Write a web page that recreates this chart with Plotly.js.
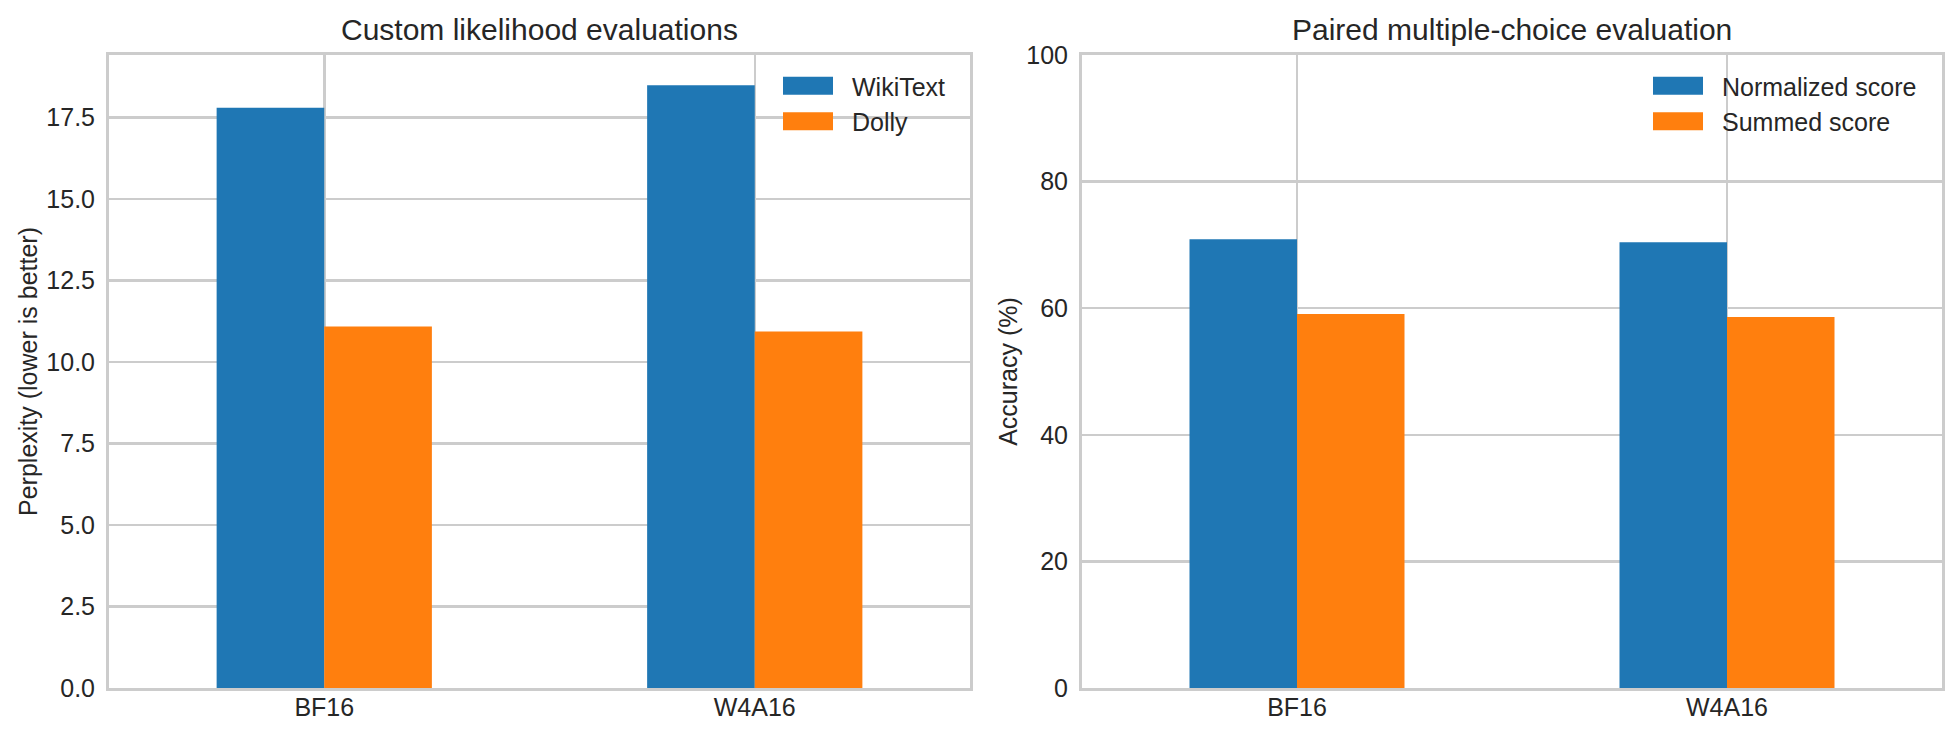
<!DOCTYPE html>
<html>
<head>
<meta charset="utf-8">
<script src="https://cdn.plot.ly/plotly-3.0.1.min.js"></script>
<style>html,body{margin:0;padding:0;background:#fff;}</style>
</head>
<body>
<div id="chart" style="width:1960px;height:738px;"></div>
<script>
// ---- data ----
const categories = ["BF16", "W4A16"];
const wikitext = [17.81, 18.50];
const dolly = [11.09, 10.94];
const normalizedScore = [70.9, 70.4];
const summedScore = [59.1, 58.6];
const leftTitle = "Custom likelihood evaluations";
const rightTitle = "Paired multiple-choice evaluation";
const leftYLabel = "Perplexity (lower is better)";
const rightYLabel = "Accuracy (%)";
const leftYTicks = [0, 2.5, 5, 7.5, 10, 12.5, 15, 17.5];
const rightYTicks = [0, 20, 40, 60, 80, 100];

const BLUE = "#1f77b4", ORANGE = "#ff7f0e", TXT = "#262626", GRID = "#cccccc";
const FONT = "Liberation Sans, Arial, sans-serif";

const traces = [
  {type: "bar", x: categories, y: wikitext, name: "WikiText", marker: {color: BLUE},
   width: 0.25, offset: -0.25, xaxis: "x", yaxis: "y", legend: "legend", legendgroup: "a"},
  {type: "bar", x: categories, y: dolly, name: "Dolly", marker: {color: ORANGE},
   width: 0.25, offset: 0, xaxis: "x", yaxis: "y", legend: "legend", legendgroup: "b"},
  {type: "bar", x: categories, y: normalizedScore, name: "Normalized score", marker: {color: BLUE},
   width: 0.25, offset: -0.25, xaxis: "x2", yaxis: "y2", legend: "legend2", legendgroup: "c"},
  {type: "bar", x: categories, y: summedScore, name: "Summed score", marker: {color: ORANGE},
   width: 0.25, offset: 0, xaxis: "x2", yaxis: "y2", legend: "legend2", legendgroup: "d"}
];

const W = 1960, H = 738;
const px = v => v / W;
const py = v => 1 - v / H;

function xax(domain, anchor) {
  return {
    domain: domain, anchor: anchor, type: "category", range: [-0.5, 1.5],
    showgrid: true, gridcolor: GRID, gridwidth: 2.5,
    showline: true, mirror: true, linecolor: GRID, linewidth: 3,
    ticks: "", ticklabelstandoff: -5, zeroline: false,
    tickfont: {family: FONT, size: 25, color: TXT}, fixedrange: true
  };
}
function yax(domain, anchor, range, ticks, fmt, title) {
  return {
    domain: domain, anchor: anchor, range: range, tickvals: ticks, tickformat: fmt,
    showgrid: true, gridcolor: GRID, gridwidth: 2.5,
    showline: true, mirror: true, linecolor: GRID, linewidth: 3,
    ticks: "", ticklabelstandoff: 6, zeroline: false,
    tickfont: {family: FONT, size: 25, color: TXT}, fixedrange: true,
    title: {text: title, font: {family: FONT, size: 25, color: TXT}, standoff: 2}
  };
}

const ydom = [py(688), py(55)];
const legendCommon = {
  xanchor: "left", yanchor: "top", bgcolor: "rgba(0,0,0,0)",
  font: {family: FONT, size: 25, color: TXT}, itemwidth: 70, tracegroupgap: 0,
  traceorder: "grouped", borderwidth: 0
};
const layout = {
  width: W, height: H,
  margin: {l: 0, r: 0, t: 0, b: 0, pad: 0},
  paper_bgcolor: "#ffffff", plot_bgcolor: "#ffffff",
  font: {family: FONT, color: TXT},
  barmode: "overlay",
  xaxis: xax([px(109), px(970)], "y"),
  yaxis: yax(ydom, "x", [0, 19.425], leftYTicks, ".1f", leftYLabel),
  xaxis2: xax([px(1082), px(1942)], "y2"),
  yaxis2: yax(ydom, "x2", [0, 100], rightYTicks, "d", rightYLabel),
  legend: Object.assign({x: px(772), y: py(63)}, legendCommon),
  legend2: Object.assign({x: px(1642), y: py(63)}, legendCommon),
  annotations: [
    {text: leftTitle, xref: "paper", yref: "paper", x: px(539.5), y: py(29), xanchor: "center",
     yanchor: "middle", showarrow: false, font: {family: FONT, size: 30, color: TXT}},
    {text: rightTitle, xref: "paper", yref: "paper", x: px(1512), y: py(29), xanchor: "center",
     yanchor: "middle", showarrow: false, font: {family: FONT, size: 30, color: TXT}}
  ],
  showlegend: true
};

function fixSwatches(gd) {
  gd.querySelectorAll(".legendpoints path").forEach(p => {
    p.setAttribute("d", "M-29,-9h50v18h-50z");
    p.style.strokeWidth = "0";
  });
}
const gdEl = document.getElementById("chart");
Plotly.newPlot(gdEl, traces, layout, {staticPlot: true, displayModeBar: false}).then(gd => {
  fixSwatches(gd);
  gd.on && gd.on("plotly_afterplot", () => fixSwatches(gd));
  setTimeout(() => fixSwatches(gd), 0);
});
</script>
</body>
</html>
